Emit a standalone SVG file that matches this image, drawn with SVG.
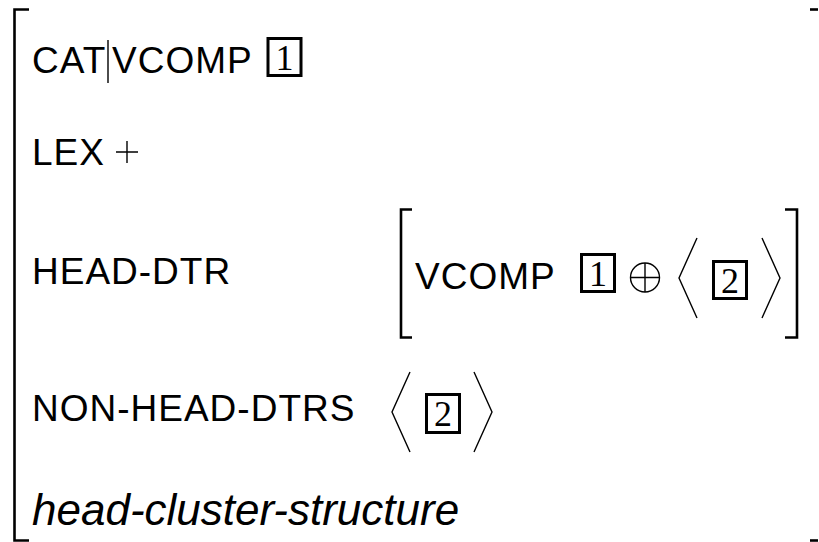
<svg xmlns="http://www.w3.org/2000/svg" width="819" height="542" viewBox="0 0 819 542">
  <style>
    .lbl { font-family: "Liberation Sans", Arial, sans-serif; font-size: 37px; letter-spacing: 1px; fill: #000; }
    .typ { font-family: "Liberation Sans", Arial, sans-serif; font-size: 44px; font-style: italic; fill: #000; }
    .tag { font-family: "Liberation Serif", "Times New Roman", serif; font-size: 36px; fill: #000; }
    .brk { fill: none; stroke: #000; stroke-width: 2.6; }
    .box { fill: none; stroke: #000; stroke-width: 3; }
    .thin { fill: none; stroke: #000; stroke-width: 1.4; }
  </style>

  <rect width="819" height="542" fill="#fff"/>

  <!-- outer attribute-value matrix brackets -->
  <g id="outer-brackets">
    <path class="brk" d="M29 9.5 H14.5 V540.5 H29"/>
    <path class="brk" d="M810 9.5 H818"/>
    <path class="brk" d="M810 540.5 H818"/>
  </g>

  <!-- CAT|VCOMP [1] -->
  <g id="row-cat">
    <text class="lbl" x="32" y="73">CAT</text>
    <line class="thin" x1="108" y1="40" x2="108" y2="83"/>
    <text class="lbl" x="112" y="73">VCOMP</text>
    <rect class="box" x="268" y="38.5" width="33" height="37"/>
    <text class="tag" x="284.5" y="70" text-anchor="middle">1</text>
  </g>

  <!-- LEX + -->
  <g id="row-lex">
    <text class="lbl" x="32" y="165">LEX</text>
    <path class="thin" d="M116 152 H138 M127 141 V163"/>
  </g>

  <!-- HEAD-DTR [VCOMP [1] (+) <[2]>] -->
  <g id="row-head-dtr">
    <text class="lbl" x="32" y="284">HEAD-DTR</text>
    <path class="brk" d="M412 209.5 H401 V337.5 H412"/>
    <path class="brk" d="M785 209.5 H797 V337.5 H785"/>
    <text class="lbl" x="415" y="289">VCOMP</text>
    <rect class="box" x="581.5" y="254.5" width="33" height="37"/>
    <text class="tag" x="598" y="286" text-anchor="middle">1</text>
    <circle class="thin" cx="645" cy="277.5" r="14.5"/>
    <path class="thin" d="M630.5 277.5 H659.5 M645 263 V292"/>
    <path class="thin" d="M697 238 L679 278 L697 318"/>
    <rect class="box" x="713.5" y="261.5" width="33" height="37"/>
    <text class="tag" x="730" y="293" text-anchor="middle">2</text>
    <path class="thin" d="M762 238 L780 278 L762 318"/>
  </g>

  <!-- NON-HEAD-DTRS <[2]> -->
  <g id="row-non-head-dtrs">
    <text class="lbl" x="32" y="421">NON-HEAD-DTRS</text>
    <path class="thin" d="M410 372 L392 412 L410 452"/>
    <rect class="box" x="426.5" y="394.5" width="33" height="38"/>
    <text class="tag" x="443" y="426" text-anchor="middle">2</text>
    <path class="thin" d="M474 372 L492 412 L474 452"/>
  </g>

  <!-- type of the structure -->
  <g id="row-type">
    <text class="typ" x="32" y="525">head-cluster-structure</text>
  </g>

  <g id="connectors"/>
</svg>
